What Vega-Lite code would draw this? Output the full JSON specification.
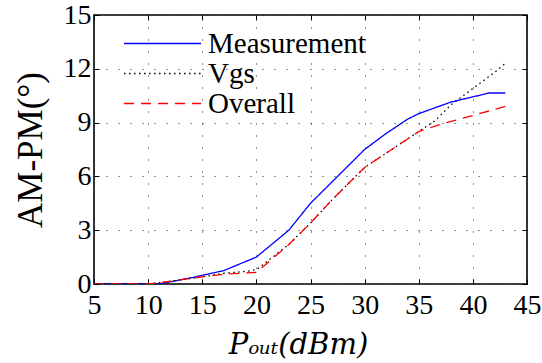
{
  "$schema": "https://vega.github.io/schema/vega-lite/v6.json",
  "autosize": {"type": "none"},
  "padding": {"left": 94, "top": 15, "right": 15, "bottom": 79},
  "width": 433,
  "height": 269,
  "background": "white",
  "config": {
    "view": {"stroke": "black", "strokeWidth": 1.6},
    "font": "Liberation Serif"
  },
  "data": {
    "values": [
      {"series": "Measurement", "x": 5, "y": 0},
      {"series": "Measurement", "x": 11, "y": 0},
      {"series": "Measurement", "x": 14, "y": 0.35},
      {"series": "Measurement", "x": 17, "y": 0.75},
      {"series": "Measurement", "x": 20, "y": 1.5},
      {"series": "Measurement", "x": 23, "y": 3.0},
      {"series": "Measurement", "x": 25, "y": 4.5},
      {"series": "Measurement", "x": 28, "y": 6.3},
      {"series": "Measurement", "x": 30, "y": 7.5},
      {"series": "Measurement", "x": 32, "y": 8.4},
      {"series": "Measurement", "x": 34, "y": 9.2},
      {"series": "Measurement", "x": 35, "y": 9.5},
      {"series": "Measurement", "x": 38, "y": 10.15},
      {"series": "Measurement", "x": 41.5, "y": 10.65},
      {"series": "Measurement", "x": 43, "y": 10.65},
      {"series": "Vgs", "x": 5, "y": 0},
      {"series": "Vgs", "x": 10, "y": 0},
      {"series": "Vgs", "x": 12, "y": 0.15},
      {"series": "Vgs", "x": 15, "y": 0.4},
      {"series": "Vgs", "x": 17, "y": 0.6},
      {"series": "Vgs", "x": 19, "y": 0.7},
      {"series": "Vgs", "x": 20, "y": 0.8},
      {"series": "Vgs", "x": 23, "y": 2.2},
      {"series": "Vgs", "x": 25, "y": 3.4},
      {"series": "Vgs", "x": 27, "y": 4.7},
      {"series": "Vgs", "x": 30, "y": 6.5},
      {"series": "Vgs", "x": 32, "y": 7.3},
      {"series": "Vgs", "x": 34, "y": 8.1},
      {"series": "Vgs", "x": 35, "y": 8.5},
      {"series": "Vgs", "x": 36.5, "y": 9.1},
      {"series": "Vgs", "x": 38, "y": 10.0},
      {"series": "Vgs", "x": 40, "y": 10.9},
      {"series": "Vgs", "x": 42, "y": 11.8},
      {"series": "Vgs", "x": 43, "y": 12.3},
      {"series": "Overall", "x": 5, "y": 0},
      {"series": "Overall", "x": 10, "y": 0},
      {"series": "Overall", "x": 12, "y": 0.15},
      {"series": "Overall", "x": 15, "y": 0.4},
      {"series": "Overall", "x": 17, "y": 0.55},
      {"series": "Overall", "x": 20, "y": 0.65},
      {"series": "Overall", "x": 20.5, "y": 0.9},
      {"series": "Overall", "x": 23, "y": 2.2},
      {"series": "Overall", "x": 25, "y": 3.4},
      {"series": "Overall", "x": 27, "y": 4.7},
      {"series": "Overall", "x": 30, "y": 6.5},
      {"series": "Overall", "x": 32, "y": 7.3},
      {"series": "Overall", "x": 34, "y": 8.1},
      {"series": "Overall", "x": 35, "y": 8.5},
      {"series": "Overall", "x": 37, "y": 8.9},
      {"series": "Overall", "x": 40, "y": 9.4},
      {"series": "Overall", "x": 43, "y": 9.9}
    ]
  },
  "resolve": {"axis": {"x": "independent", "y": "independent"}},
  "layer": [
    {
      "mark": {"type": "line", "strokeWidth": 1.3, "clip": true},
      "encoding": {
        "x": {
          "field": "x", "type": "quantitative",
          "scale": {"domain": [5, 45], "nice": false, "zero": false},
          "axis": {
            "values": [5, 10, 15, 20, 25, 30, 35, 40, 45],
            "title": "Pₒᵤₜ(dBm)",
            "titleFont": "DejaVu Serif",
            "titleFontStyle": "italic",
            "titleFontWeight": "normal",
            "titleFontSize": 29,
            "titleColor": "black",
            "titlePadding": 11,
            "titleX": 204,
            "labelFontSize": 28,
            "labelColor": "black",
            "labelPadding": 12,
            "labelFlush": false,
            "domain": false,
            "tickSize": -5,
            "tickColor": "black",
            "grid": true,
            "gridColor": "#222",
            "gridDash": [1, 11],
            "gridWidth": 1
          }
        },
        "y": {
          "field": "y", "type": "quantitative",
          "scale": {"domain": [0, 15], "nice": false},
          "axis": {
            "values": [0, 3, 6, 9, 12, 15],
            "title": "AM-PM(°)",
            "titleFontSize": 35,
            "titleFontWeight": "normal",
            "titleColor": "black",
            "titlePadding": 15,
            "labelFontSize": 28,
            "labelColor": "black",
            "labelPadding": 8,
            "labelFlush": false,
            "domain": false,
            "tickSize": -5,
            "tickColor": "black",
            "grid": true,
            "gridColor": "#222",
            "gridDash": [1, 11],
            "gridWidth": 1
          }
        },
        "color": {
          "field": "series", "type": "nominal",
          "scale": {"domain": ["Measurement", "Vgs", "Overall"], "range": ["#0000ff", "#000000", "#ff0000"]},
          "legend": {
            "orient": "none",
            "legendX": 54,
            "legendY": 14,
            "title": null,
            "symbolType": "M-4,0H4",
            "symbolSize": 370,
            "symbolStrokeWidth": 1.3,
            "labelFontSize": 29,
            "labelColor": "black",
            "labelOffset": 31,
            "rowPadding": -4,
            "padding": 0
          }
        },
        "strokeDash": {
          "field": "series", "type": "nominal",
          "scale": {"domain": ["Measurement", "Vgs", "Overall"], "range": [[1, 0], [1.5, 3.5], [10, 7]]},
          "legend": null
        },
        "order": {"field": "x", "type": "quantitative"}
      }
    },
    {
      "mark": {"type": "line", "opacity": 0},
      "encoding": {
        "x": {
          "field": "x", "type": "quantitative",
          "scale": {"domain": [5, 45], "nice": false, "zero": false},
          "axis": {
            "orient": "top",
            "values": [5, 10, 15, 20, 25, 30, 35, 40, 45],
            "title": null,
            "labels": false,
            "domain": false,
            "grid": false,
            "tickSize": -5,
            "tickColor": "black"
          }
        },
        "y": {
          "field": "y", "type": "quantitative",
          "scale": {"domain": [0, 15], "nice": false},
          "axis": {
            "orient": "right",
            "values": [0, 3, 6, 9, 12, 15],
            "title": null,
            "labels": false,
            "domain": false,
            "grid": false,
            "tickSize": -5,
            "tickColor": "black"
          }
        },
        "detail": {"field": "series", "type": "nominal"}
      }
    }
  ]
}
